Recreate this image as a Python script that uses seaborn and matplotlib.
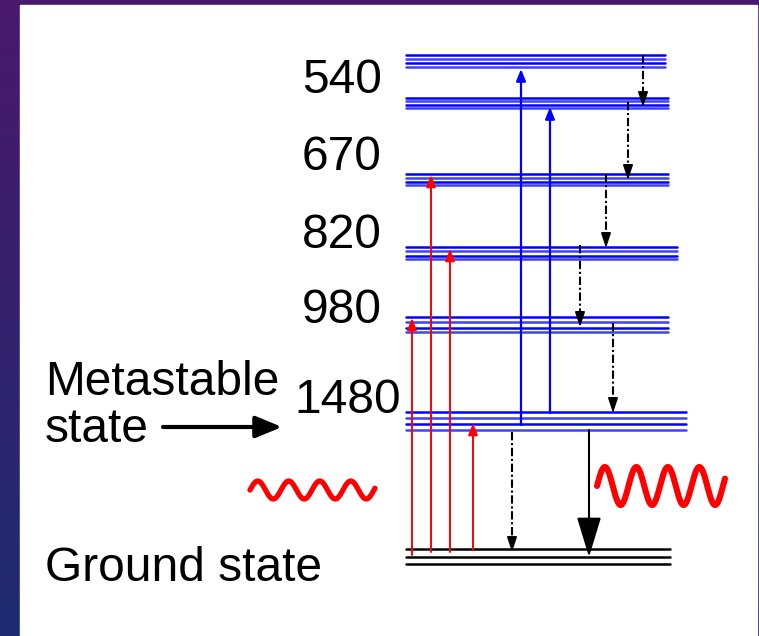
import numpy as np
import pandas as pd
import matplotlib.pyplot as plt
import seaborn as sns
from matplotlib.patches import Rectangle

sns.set_theme(style="white")
plt.rcParams['font.family'] = ['Liberation Sans', 'DejaVu Sans']
plt.rcParams['text.color'] = 'black'

# Energy bands: rows of the sub-level lines, top band first (pixel units)
band_lines = [
    [55, 59, 63, 67],
    [98, 101, 105, 108],
    [174, 178, 182, 185],
    [247, 251, 256, 259],
    [317, 322, 328, 332],
    [412, 418, 424, 430],
]
band_right = [665, 668, 668, 677, 668, 686]
band_left = 406
ground_lines = [549, 557, 564]
ground_right = 670

# Pump wavelength labels (nm)
wl_labels = ["540", "670", "820", "980", "1480"]
wl_x = [302, 302, 302, 302, 294]
wl_base = [93, 170, 248, 323, 413]

# Pump absorption (red): x, start, tip
pump_x = [412, 431, 450, 473]
pump_start = [555, 552, 552, 550]
pump_tip = [318, 175, 249, 423]

# Excited state absorption (blue)
esa_x = [521, 550]
esa_start = [425, 413]
esa_tip = [69, 107]

# Non-radiative decays (dash-dot)
nr_x = [643, 628, 606, 580, 613, 512]
nr_start = [55, 102, 174, 245, 323, 432]
nr_tip = [107, 180, 248, 327, 413, 552]

# Stimulated emission
em_x, em_start, em_tip = 589, 430, 557

# Photon squiggles: x0, x1, centre, amplitude, period, line width
waves = {
    "pump": (250, 375, 490, 9, 31, 3.8),
    "signal": (597, 725, 486, 19, 31.5, 4.4),
}

fig = plt.figure(figsize=(7.59, 6.36), dpi=100)
ax = fig.add_axes([0, 0, 1, 1])

# slide background + white panel
top = np.array([0.29, 0.10, 0.42])
bot = np.array([0.12, 0.17, 0.44])
t = np.linspace(0, 1, 200)[:, None, None]
grad = np.repeat((1 - t) * top + t * bot, 2, axis=1)
ax.imshow(grad, extent=[0, 759, 636, 0], aspect='auto', zorder=0)
ax.add_patch(Rectangle((20, 5), 737, 640, color='white', zorder=1))

# levels
for rows, xr in zip(band_lines, band_right):
    for i, y in enumerate(rows):
        ax.plot([band_left, xr], [y, y], color='blue', lw=1.8,
                alpha=1.0 if i % 2 == 0 else 0.75, zorder=3)
for y in ground_lines:
    ax.plot([band_left, ground_right], [y, y], color='black', lw=1.8, zorder=3)


def arrow(x, y0, y1, color, lw, hl, hw, scale=10):
    ax.annotate("", xy=(x, y1), xytext=(x, y0), zorder=4,
                arrowprops=dict(arrowstyle=f"-|>,head_length={hl},head_width={hw}",
                                color=color, lw=lw, shrinkA=0, shrinkB=0,
                                mutation_scale=scale))


for x, y0, y1 in zip(pump_x, pump_start, pump_tip):
    arrow(x, y0, y1, 'red', 1.4, 0.7, 0.28)
for x, y0, y1 in zip(esa_x, esa_start, esa_tip):
    arrow(x, y0, y1, 'blue', 1.6, 0.7, 0.28)
for x, y0, y1 in zip(nr_x, nr_start, nr_tip):
    ax.plot([x, x], [y0, y1 - 8], color='black', lw=1.5,
            ls=(0, (4, 1.3, 1, 1.3)), zorder=4)
    arrow(x, y1 - 10, y1, 'black', 1.2, 0.9, 0.3)
arrow(em_x, em_start, em_tip, 'black', 1.5, 1.25, 0.38, scale=20)

# photon squiggles
rows = []
for name, (x0, x1, yc, amp, per, lw) in waves.items():
    xs = np.linspace(x0, x1, 300)
    ys = yc - amp * np.sin(2 * np.pi * (xs - x0) / per)
    rows.append(pd.DataFrame({"x": xs, "y": ys, "wave": name}))
wave_df = pd.concat(rows)
for name, (x0, x1, yc, amp, per, lw) in waves.items():
    sns.lineplot(data=wave_df[wave_df.wave == name], x="x", y="y", sort=False,
                 estimator=None, color='red', lw=lw, ax=ax, zorder=5)
ax.set_xlim(0, 759)
ax.set_ylim(636, 0)
ax.axis('off')

# text
for lab, x, y in zip(wl_labels, wl_x, wl_base):
    ax.text(x, y, lab, fontsize=34.5, ha='left', va='baseline', color='black', zorder=6)
ax.text(45, 395, "Metastable", fontsize=34.5, ha='left', va='baseline', color='black', zorder=6)
ax.text(45, 442, "state", fontsize=34.5, ha='left', va='baseline', color='black', zorder=6)
ax.text(45, 581, "Ground state", fontsize=34.5, ha='left', va='baseline', color='black', zorder=6)
arrow_y = 427
ax.annotate("", xy=(282, arrow_y), xytext=(163, arrow_y), zorder=6,
            arrowprops=dict(arrowstyle="-|>,head_length=0.8,head_width=0.33",
                            color='black', lw=3, shrinkA=0, shrinkB=0,
                            mutation_scale=20))

fig.savefig("out.png", dpi=100)
